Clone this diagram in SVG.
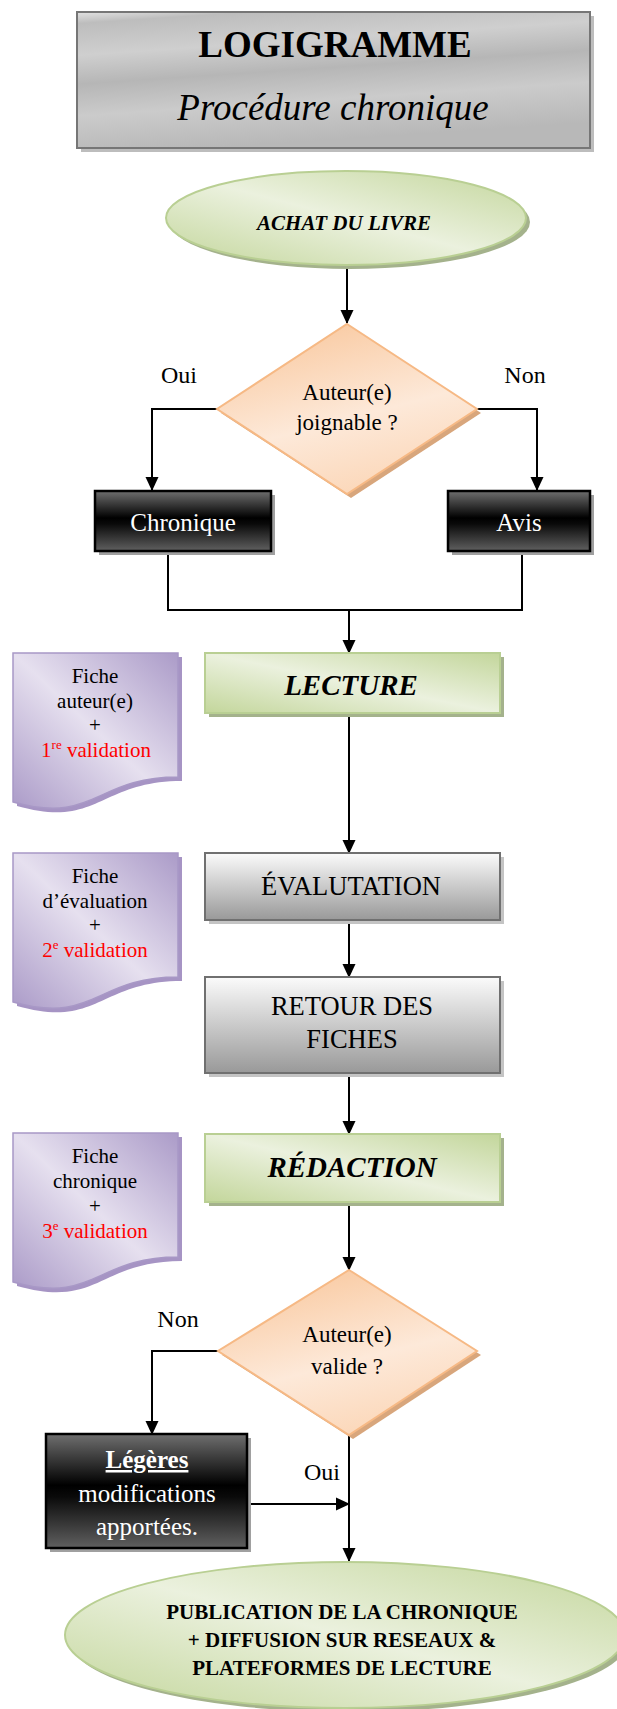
<svg xmlns="http://www.w3.org/2000/svg" width="617" height="1709" viewBox="0 0 617 1709">
<defs>
<style>
text{font-family:"Liberation Serif","Times New Roman",serif;text-anchor:middle;fill:#000}
.w{fill:#fff}
.red{fill:#ff0000}
.b{font-weight:bold}
.i{font-style:italic}
.conn{fill:none;stroke:#000;stroke-width:2}
.arr{marker-end:url(#ah)}
.doc{fill:url(#gPurple);stroke:#a898c6;stroke-width:1.5}
.docS{fill:#a694c4}
.grn{fill:url(#gGreen);stroke:#b9cf93;stroke-width:2}
.grnS{fill:#a4b28c}
.org{fill:url(#gOrange);stroke:#f6b985;stroke-width:2}
.orgS{fill:#d8a67c}
.gry{fill:url(#gGray);stroke:#707070;stroke-width:2}
.gryS{fill:#c4c4c4}
.drk{fill:url(#gDark);stroke:#000;stroke-width:2.5}
.drkS{fill:#a0a0a0}
.t21{font-size:21px}
.t23{font-size:23px}
.t24{font-size:24px}
.t25{font-size:25px}
</style>
<marker id="ah" markerUnits="userSpaceOnUse" markerWidth="14" markerHeight="14" refX="13" refY="7" orient="auto" viewBox="0 0 14 14">
<path d="M0,0.5 L14,7 L0,13.5 z" fill="#000"/>
</marker>
<linearGradient id="gSilver" x1="0" y1="0" x2="0.25" y2="1">
<stop offset="0" stop-color="#e2e2e2"/>
<stop offset="0.08" stop-color="#bdbdbd"/>
<stop offset="0.3" stop-color="#cfcfcf"/>
<stop offset="0.5" stop-color="#b6b6b6"/>
<stop offset="0.72" stop-color="#cbcbcb"/>
<stop offset="1" stop-color="#b8b8b8"/>
</linearGradient>
<linearGradient id="gPurple" x1="1" y1="0" x2="0" y2="1">
<stop offset="0" stop-color="#ab9bc8"/>
<stop offset="0.5" stop-color="#e6e0ef"/>
<stop offset="1" stop-color="#ab9bc8"/>
</linearGradient>
<linearGradient id="gGreen" x1="1" y1="0" x2="0" y2="1">
<stop offset="0" stop-color="#c3d69b"/>
<stop offset="0.5" stop-color="#ebf1de"/>
<stop offset="1" stop-color="#c3d69b"/>
</linearGradient>
<linearGradient id="gOrange" x1="0.3" y1="0" x2="0.7" y2="1">
<stop offset="0" stop-color="#f9c9a0"/>
<stop offset="0.55" stop-color="#fde9d9"/>
<stop offset="1" stop-color="#fbd5b5"/>
</linearGradient>
<linearGradient id="gGray" x1="0" y1="0" x2="0" y2="1">
<stop offset="0" stop-color="#fbfbfb"/>
<stop offset="1" stop-color="#999999"/>
</linearGradient>
<linearGradient id="gDark" x1="0" y1="0" x2="0" y2="1">
<stop offset="0" stop-color="#6f6f6f"/>
<stop offset="0.45" stop-color="#000000"/>
<stop offset="0.55" stop-color="#0a0a0a"/>
<stop offset="1" stop-color="#606060"/>
</linearGradient>
</defs>
<rect width="617" height="1709" fill="#fff"/>

<g id="title">
<rect x="81" y="16" width="513" height="136" fill="#bdbdbd"/>
<rect x="77" y="12" width="513" height="136" fill="url(#gSilver)" stroke="#767676" stroke-width="2"/>
<text x="335" y="57" class="b" font-size="37">LOGIGRAMME</text>
<text x="333" y="120" class="i" font-size="37">Procédure chronique</text>
</g>

<g id="connectors">
<path class="conn arr" d="M347,267 V323"/>
<path class="conn arr" d="M217,409 H152 V490"/>
<path class="conn arr" d="M477,409 H537 V490"/>
<path class="conn" d="M168,551 V610 H522 V551"/>
<path class="conn arr" d="M349,610 V653"/>
<path class="conn arr" d="M349,713 V853"/>
<path class="conn arr" d="M349,920 V977"/>
<path class="conn arr" d="M349,1073 V1134"/>
<path class="conn arr" d="M349,1202 V1270"/>
<path class="conn arr" d="M218,1351 H152 V1434"/>
<path class="conn arr" d="M247,1504 H349"/>
<path class="conn arr" d="M349,1435 V1561"/>
</g>

<g id="achat">
<ellipse cx="350" cy="222" rx="180" ry="47" class="grnS"/>
<ellipse cx="346" cy="218" rx="180" ry="47" class="grn"/>
<text x="344" y="230" class="b i t21">ACHAT DU LIVRE</text>
</g>

<g id="decision1">
<polygon points="351,328 481,413 351,498 221,413" class="orgS"/>
<polygon points="347,324 477,409 347,494 217,409" class="org"/>
<text x="347" y="400" class="t23">Auteur(e)</text>
<text x="347" y="430" class="t23">joignable ?</text>
</g>

<g id="label-oui1"><text x="179" y="383" class="t24">Oui</text></g>
<g id="label-non1"><text x="525" y="383" class="t24">Non</text></g>

<g id="chronique">
<rect x="99" y="495" width="176" height="60" class="drkS"/>
<rect x="95" y="491" width="176" height="60" class="drk"/>
<text x="183" y="531" class="w t25">Chronique</text>
</g>

<g id="avis">
<rect x="452" y="495" width="142" height="60" class="drkS"/>
<rect x="448" y="491" width="142" height="60" class="drk"/>
<text x="519" y="531" class="w t25">Avis</text>
</g>

<g id="doc1">
<path class="docS" d="M17,657 H182 V781 C99,781 99,829 17,806 Z"/>
<path class="doc" d="M13,653 H178 V777 C95,777 95,825 13,802 Z"/>
<text x="95" y="683" class="t21">Fiche</text>
<text x="95" y="708" class="t21">auteur(e)</text>
<text x="95" y="732" class="t21">+</text>
<text x="96" y="757" class="t21 red">1<tspan font-size="13" dy="-8">re</tspan><tspan dy="8"> validation</tspan></text>
</g>

<g id="lecture">
<rect x="209" y="657" width="295" height="60" class="grnS"/>
<rect x="205" y="653" width="295" height="60" class="grn"/>
<text x="351" y="695" class="b i" font-size="29">LECTURE</text>
</g>

<g id="doc2">
<path class="docS" d="M17,857 H182 V981 C99,981 99,1029 17,1006 Z"/>
<path class="doc" d="M13,853 H178 V977 C95,977 95,1025 13,1002 Z"/>
<text x="95" y="883" class="t21">Fiche</text>
<text x="95" y="908" class="t21">d’évaluation</text>
<text x="95" y="932" class="t21">+</text>
<text x="95" y="957" class="t21 red">2<tspan font-size="13" dy="-8">e</tspan><tspan dy="8"> validation</tspan></text>
</g>

<g id="evaluation">
<rect x="209" y="857" width="295" height="67" class="gryS"/>
<rect x="205" y="853" width="295" height="67" class="gry"/>
<text x="351" y="895" font-size="26.5">ÉVALUTATION</text>
</g>

<g id="retour">
<rect x="209" y="981" width="295" height="96" class="gryS"/>
<rect x="205" y="977" width="295" height="96" class="gry"/>
<text x="352" y="1015" font-size="26.5">RETOUR DES</text>
<text x="352" y="1048" font-size="26.5">FICHES</text>
</g>

<g id="doc3">
<path class="docS" d="M17,1137 H182 V1261 C99,1261 99,1309 17,1286 Z"/>
<path class="doc" d="M13,1133 H178 V1257 C95,1257 95,1305 13,1282 Z"/>
<text x="95" y="1163" class="t21">Fiche</text>
<text x="95" y="1188" class="t21">chronique</text>
<text x="95" y="1213" class="t21">+</text>
<text x="95" y="1238" class="t21 red">3<tspan font-size="13" dy="-8">e</tspan><tspan dy="8"> validation</tspan></text>
</g>

<g id="redaction">
<rect x="209" y="1138" width="295" height="68" class="grnS"/>
<rect x="205" y="1134" width="295" height="68" class="grn"/>
<text x="352" y="1177" class="b i" font-size="29">RÉDACTION</text>
</g>

<g id="decision2">
<polygon points="353,1274 481,1355 353,1439 222,1355" class="orgS"/>
<polygon points="349,1270 477,1351 349,1435 218,1351" class="org"/>
<text x="347" y="1342" class="t23">Auteur(e)</text>
<text x="347" y="1374" class="t23">valide ?</text>
</g>

<g id="label-non2"><text x="178" y="1327" class="t24">Non</text></g>
<g id="label-oui2"><text x="322" y="1480" class="t24">Oui</text></g>

<g id="modifications">
<rect x="50" y="1438" width="201" height="114" class="drkS"/>
<rect x="46" y="1434" width="201" height="114" class="drk"/>
<text x="147" y="1468" class="w b t25" text-decoration="underline">Légères</text>
<text x="147" y="1502" class="w t25">modifications</text>
<text x="147" y="1535" class="w t25">apportées.</text>
</g>

<g id="publication">
<ellipse cx="349" cy="1639" rx="280" ry="73" class="grnS"/>
<ellipse cx="345" cy="1635" rx="280" ry="73" class="grn"/>
<text x="342" y="1619" class="b t21">PUBLICATION DE LA CHRONIQUE</text>
<text x="342" y="1647" class="b t21">+ DIFFUSION SUR RESEAUX &amp;</text>
<text x="342" y="1675" class="b t21">PLATEFORMES DE LECTURE</text>
</g>
</svg>
